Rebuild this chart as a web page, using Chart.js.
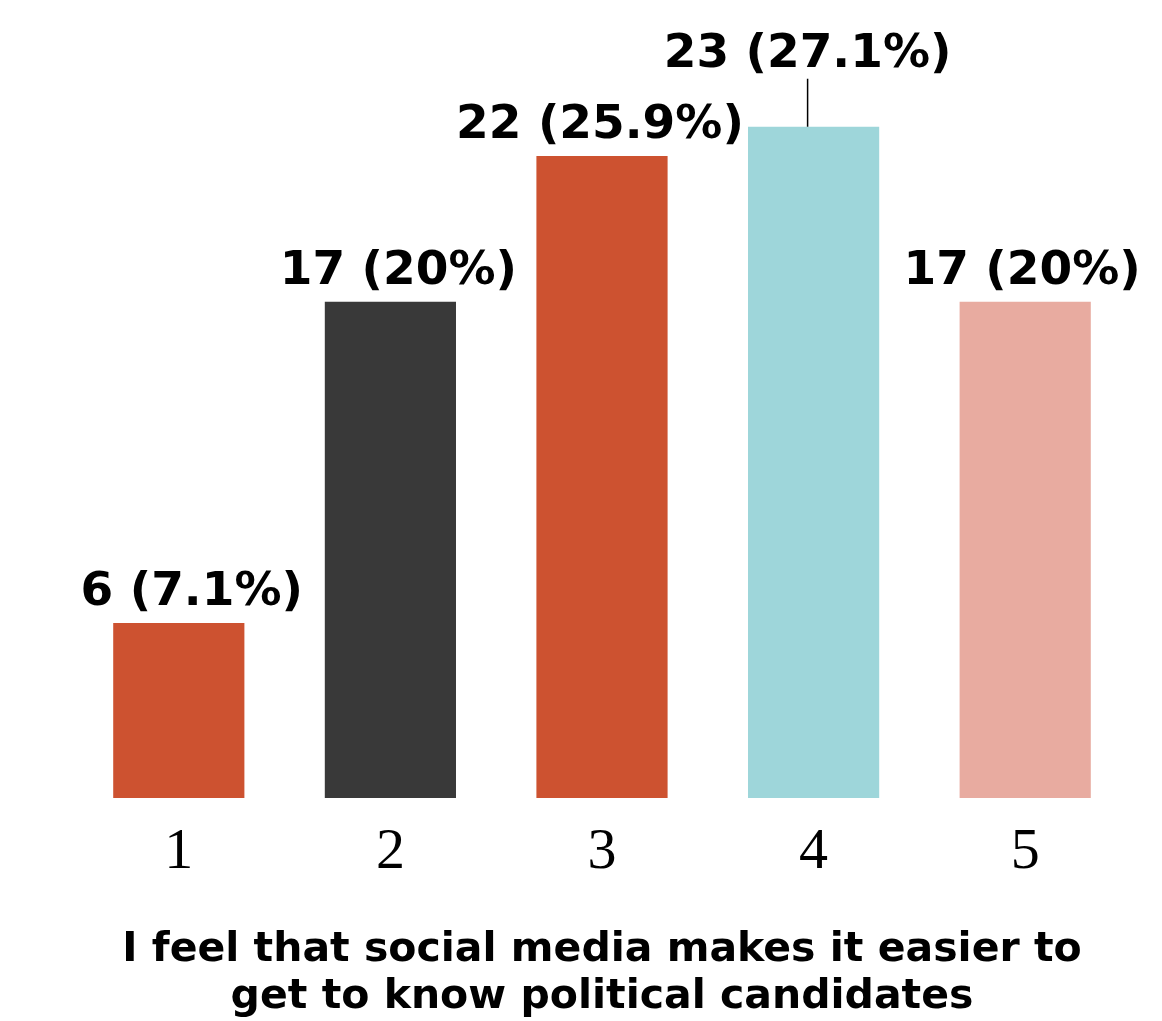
<!DOCTYPE html>
<html>
<head>
<meta charset="utf-8">
<script src="https://cdn.jsdelivr.net/npm/chart.js@4/dist/chart.umd.min.js"></script>
<style>
  html, body { margin: 0; padding: 0; background: #fff; }
  #wrap { width: 1162px; height: 1021px; }
</style>
</head>
<body>
<div id="wrap"><canvas id="chart"></canvas></div>
<script>
// data
const categories = ["1", "2", "3", "4", "5"];
const counts = [6, 17, 22, 23, 17];
const percents = [7.1, 20, 25.9, 27.1, 20];
const barColors = ["#CD5230", "#393939", "#CD5230", "#9ED6DA", "#E8ABA0"];
const titleLines = ["I feel that social media makes it easier to", "get to know political candidates"];

// bar value labels, 4th one lifted with a leader line
const valueLabels = {
  id: "valueLabels",
  afterDatasetsDraw(chart, args, opts) {
    const ctx = chart.ctx;
    const meta = chart.getDatasetMeta(0);
    ctx.save();
    ctx.font = "bold 47px 'DejaVu Sans', sans-serif";
    ctx.fillStyle = "#000";
    ctx.textAlign = "center";
    ctx.textBaseline = "alphabetic";
    meta.data.forEach((bar, i) => {
      const text = counts[i] + " (" + percents[i] + "%)";
      const lift = opts.lift[i] || 0;
      const dx = opts.shift[i] || 0;
      const y = bar.y - 18 - lift;
      ctx.fillText(text, bar.x + dx, y);
      if (lift) {
        ctx.strokeStyle = "#000";
        ctx.lineWidth = 1.5;
        ctx.beginPath();
        ctx.moveTo(bar.x + dx, y + 12);
        ctx.lineTo(bar.x + dx, bar.y);
        ctx.stroke();
      }
    });
    ctx.restore();
  }
};

new Chart(document.getElementById("chart"), {
  type: "bar",
  data: {
    labels: categories,
    datasets: [{
      data: counts,
      backgroundColor: barColors,
      borderWidth: 0,
      barPercentage: 0.62,
      categoryPercentage: 1
    }]
  },
  plugins: [valueLabels],
  options: {
    responsive: true,
    maintainAspectRatio: false,
    animation: false,
    layout: { padding: { left: 73, right: 31, top: 10, bottom: 0 } },
    plugins: {
      legend: { display: false },
      tooltip: { enabled: false },
      valueLabels: { lift: [0, 0, 0, 42, 0], shift: [13, 8, -2, -6, -3] }
    },
    scales: {
      y: { display: false, min: 0, max: 27 },
      x: {
        grid: { display: false },
        border: { display: false },
        ticks: {
          color: "#000",
          padding: 12,
          font: { family: "'Liberation Serif', 'Times New Roman', serif", size: 58 }
        },
        title: {
          display: true,
          text: titleLines,
          color: "#000",
          font: { family: "'DejaVu Sans', sans-serif", size: 41, weight: "bold", lineHeight: 1.15 },
          padding: { top: 0, bottom: 0 }
        },
        afterFit(scale) { scale.height = 223; }
      }
    }
  }
});
</script>
</body>
</html>
